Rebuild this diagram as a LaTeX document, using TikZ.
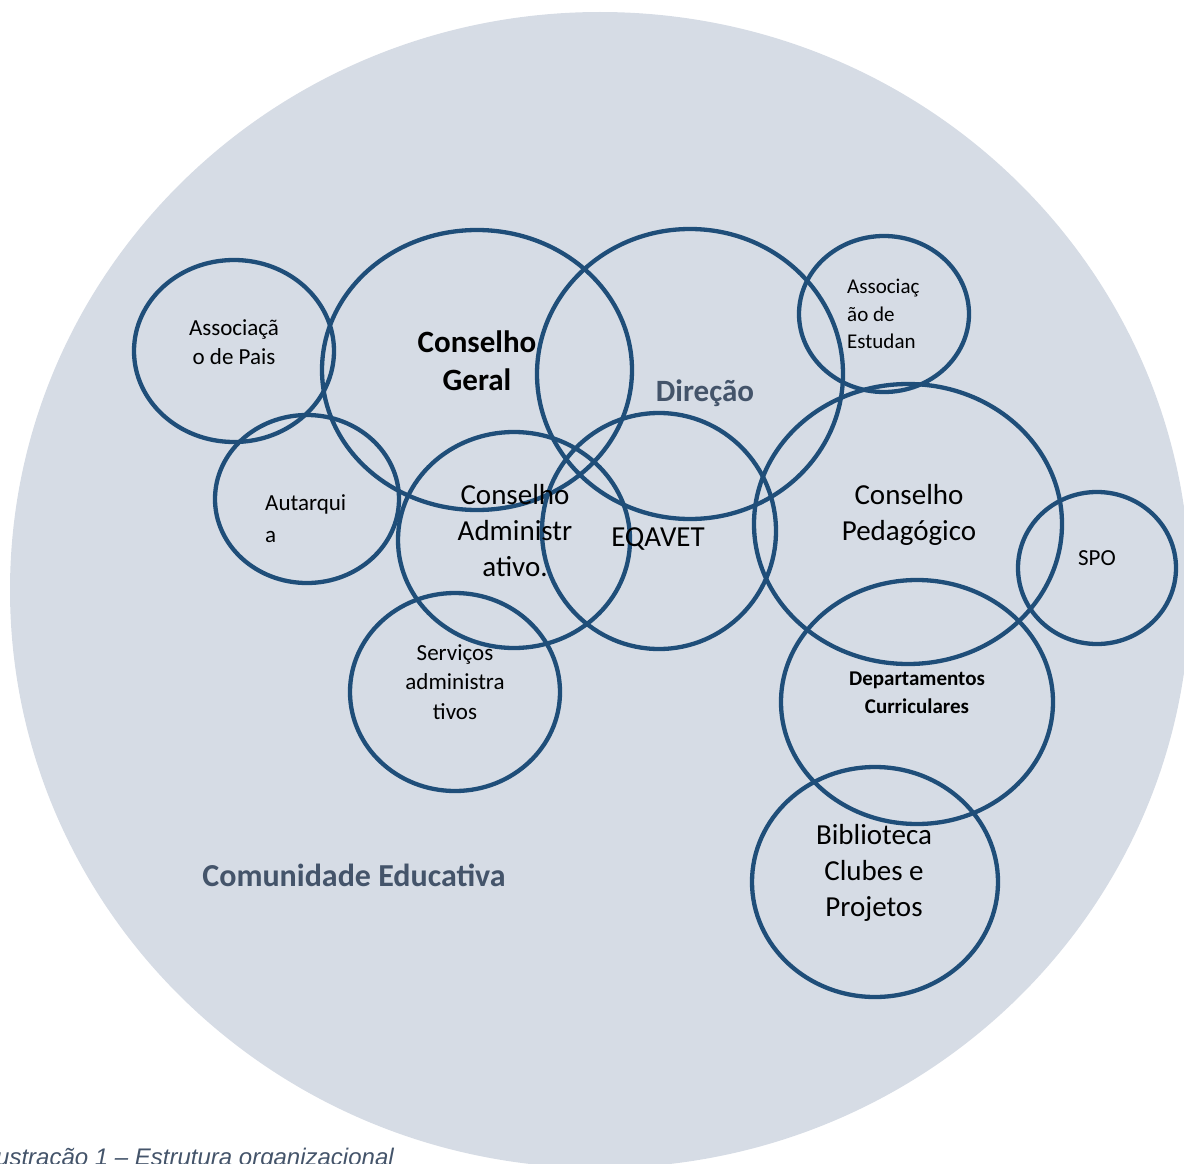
\documentclass[tikz,border=0pt]{standalone}
\usepackage{fontspec}
\setmainfont{Carlito}
\newfontfamily\captionfont{Liberation Sans}
\usetikzlibrary{shapes.geometric}
\definecolor{ringblue}{RGB}{31,78,121}
\definecolor{bgfill}{RGB}{214,220,229}
\definecolor{slate}{RGB}{68,84,106}
\newcommand{\setfs}[2]{\fontsize{#1}{#2}\selectfont}
\tikzset{
  organ/.style={ellipse, draw=ringblue, line width=4.3pt, inner sep=0pt, outer sep=0pt},
  lbl/.style={inner sep=0pt, text=black, align=center},
  small/.style={font=\setfs{23}{29.5}},
  large/.style={font=\setfs{29}{36}},
}
\begin{document}
\begin{tikzpicture}[x=1pt,y=-1pt]
\useasboundingbox (0,0) rectangle (1184,1164);
\clip (0,0) rectangle (1184,1164);

% school community background
\node[ellipse, fill=bgfill, inner sep=0pt, minimum width=1180pt, minimum height=1156pt] (comunidade) at (600,590) {};

% bodies of the school
\node[organ, minimum width=200pt, minimum height=182pt] (pais)    at (234,351) {};
\node[organ, minimum width=310pt, minimum height=280pt] (geral)   at (477,370) {};
\node[organ, minimum width=306pt, minimum height=290pt] (direcao) at (690,374) {};
\node[organ, minimum width=170pt, minimum height=156pt] (estud)   at (884,314) {};
\node[organ, minimum width=184pt, minimum height=168pt] (autarq)  at (307,499) {};
\node[organ, minimum width=232pt, minimum height=216pt] (admin)   at (514,540) {};
\node[organ, minimum width=234pt, minimum height=236pt] (eqavet)  at (659,531) {};
\node[organ, minimum width=308pt, minimum height=280pt] (pedag)   at (908,524) {};
\node[organ, minimum width=158pt, minimum height=152pt] (spo)     at (1097,568) {};
\node[organ, minimum width=272pt, minimum height=244pt] (deptos)  at (917,702) {};
\node[organ, minimum width=246pt, minimum height=230pt] (biblio)  at (875,882) {};
\node[organ, minimum width=210pt, minimum height=198pt] (servicos) at (455,692) {};

% labels
\node[lbl, small] (tpais) at (234,342) {Associaçã\\o de Pais};
\node[lbl, font=\bfseries\setfs{31}{38}] (tgeral) at (477,361) {Conselho\\Geral};
\node[lbl, text=slate, font=\bfseries\setfs{31}{38}] (tdirecao) at (705,393) {Direção};
\node[lbl, anchor=west, align=left, font=\setfs{21}{27.5}] (testud) at (847,314) {Associaç\\ão de\\Estudan};
\node[lbl, anchor=west, align=left, font=\setfs{23}{32}] (tautarq) at (265,519) {Autarqui\\a};
\node[lbl, large] (tadmin) at (515,531) {Conselho\\Administr\\ativo.};
\node[lbl, large] (teqavet) at (658,539) {EQAVET};
\node[lbl, large] (tpedag) at (909,515) {Conselho\\Pedagógico};
\node[lbl, small] (tspo) at (1097,558) {SPO};
\node[lbl, font=\bfseries\setfs{21}{28}] (tdeptos) at (917,693) {Departamentos\\Curriculares};
\node[lbl, large] (tbiblio) at (874,873) {Biblioteca\\Clubes e\\Projetos};
\node[lbl, small] (tservicos) at (455,682) {Serviços\\administra\\tivos};
\node[lbl, text=slate, font=\bfseries\setfs{32}{39}] (tcomunidade) at (354,875) {Comunidade Educativa};

% figure caption
\node[anchor=base west, inner sep=0pt, text=slate, font=\captionfont\itshape\setfs{24}{28}] (legenda) at (-4,1165) {ustração 1 – Estrutura organizacional};
\end{tikzpicture}
\end{document}
